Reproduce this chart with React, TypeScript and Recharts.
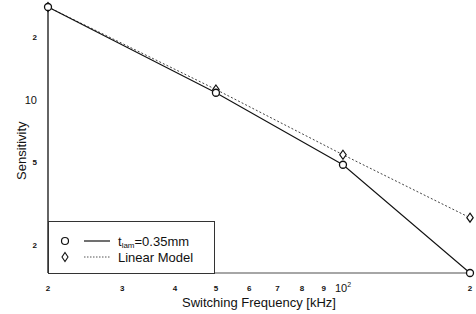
import React from "react";
import { LineChart, Line, XAxis, YAxis } from "recharts";

const frequencies = [20, 50, 100, 200];
const measured = [27.9, 10.8, 4.87, 1.47];
const linearModel = [27.9, 11.2, 5.44, 2.71];

const xTicks = [20, 30, 40, 50, 60, 70, 80, 90, 100, 200];
const xTickLabels: Record<number, string> = {
  20: "2", 30: "3", 40: "4", 50: "5", 60: "6", 70: "7", 80: "8", 90: "9", 100: "10", 200: "2",
};
const yTicks = [2, 5, 10, 20];
const yTickLabels: Record<number, string> = { 2: "2", 5: "5", 10: "10", 20: "2" };

const data = frequencies.map((f, i) => ({ f, measured: measured[i], linear: linearModel[i] }));

const FONT = "'Liberation Sans', Arial, sans-serif";

const XTick = (props: any) => {
  const { x, y, payload } = props;
  const v = payload.value;
  if (v === 100) {
    return (
      <text x={x} y={y + 11} textAnchor="middle" fontFamily={FONT} fontSize={11} fill="#111">
        10<tspan dy={-5} fontSize={7}>2</tspan>
      </text>
    );
  }
  return (
    <text x={x} y={y + 10} textAnchor="middle" fontFamily={FONT} fontSize={8} fontWeight="bold" fill="#111">
      {xTickLabels[v]}
    </text>
  );
};

const YTick = (props: any) => {
  const { x, y, payload } = props;
  const v = payload.value;
  const big = v === 10;
  return (
    <text x={x - 3} y={y + (big ? 4 : 3)} textAnchor="end" fontFamily={FONT} fontSize={big ? 11 : 8} fontWeight={big ? "normal" : "bold"} fill="#111">
      {yTickLabels[v]}
    </text>
  );
};

const CircleDot = (props: any) => {
  const { cx, cy } = props;
  return <circle cx={cx} cy={cy} r={3.5} fill="#fff" stroke="#111" strokeWidth={1.3} />;
};
const DiamondDot = (props: any) => {
  const { cx, cy } = props;
  return (
    <path d={`M${cx},${cy - 4.5}L${cx + 3.2},${cy}L${cx},${cy + 4.5}L${cx - 3.2},${cy}Z`} fill="#fff" stroke="#111" strokeWidth={1.2} />
  );
};

const LegendBox = () => (
  <svg width={167} height={53} style={{ position: "absolute", left: 48, top: 221 }}>
    <rect x={0.5} y={0.5} width={166} height={52} fill="#fff" stroke="#333" strokeWidth={1} />
    <circle cx={17} cy={20} r={3.5} fill="#fff" stroke="#111" strokeWidth={1.2} />
    <line x1={36} y1={20} x2={62} y2={20} stroke="#111" strokeWidth={1.2} />
    <path d="M17,31.5L20,36L17,40.5L14,36Z" fill="#fff" stroke="#111" strokeWidth={1.1} />
    <line x1={36} y1={36} x2={62} y2={36} stroke="#555" strokeWidth={1} strokeDasharray="1.5 1.5" />
    <text x={70} y={25} fontFamily={FONT} fontSize={13} fill="#111">
      t<tspan fontSize={8} dy={2}>lam</tspan>
      <tspan dy={-2}>=0.35mm</tspan>
    </text>
    <text x={70} y={41} fontFamily={FONT} fontSize={13} fill="#111">Linear Model</text>
  </svg>
);

export default function App() {
  return (
    <div style={{ position: "absolute", left: 0, top: 0, width: 476, height: 314, background: "#fff" }}>
      <LineChart width={476} height={314} data={data} margin={{ top: 7, right: 6, left: 0, bottom: 0 }}>
        <XAxis
          dataKey="f"
          type="number"
          scale="log"
          domain={[20, 200]}
          ticks={xTicks}
          tick={<XTick />}
          tickLine={false}
          axisLine={{ stroke: "#888", strokeWidth: 1.5 }}
          height={41}
          interval={0}
          label={{ value: "Switching Frequency [kHz]", position: "insideBottom", offset: 7, fontFamily: FONT, fontSize: 13, fill: "#111" }}
        />
        <XAxis
          xAxisId="top"
          orientation="top"
          dataKey="f"
          type="number"
          scale="log"
          domain={[20, 200]}
          tick={false}
          tickLine={false}
          axisLine={{ stroke: "#888", strokeWidth: 1.5 }}
          height={0}
        />
        <YAxis
          type="number"
          scale="log"
          domain={[1.47, 27.9]}
          ticks={yTicks}
          tick={<YTick />}
          tickLine={false}
          axisLine={{ stroke: "#111", strokeWidth: 1.3 }}
          width={48}
          interval={0}
          label={{ value: "Sensitivity", angle: -90, position: "insideLeft", offset: 21, dy: 40, fontFamily: FONT, fontSize: 13, fill: "#111" }}
        />
        <YAxis
          yAxisId="right"
          orientation="right"
          type="number"
          scale="log"
          domain={[1.47, 27.9]}
          tick={false}
          tickLine={false}
          axisLine={{ stroke: "#111", strokeWidth: 1.3 }}
          width={0}
        />
        <Line
          dataKey="linear"
          stroke="#444"
          strokeWidth={1}
          strokeDasharray="2 2"
          dot={<DiamondDot />}
          activeDot={false}
          isAnimationActive={false}
        />
        <Line
          dataKey="measured"
          stroke="#111"
          strokeWidth={1.1}
          dot={<CircleDot />}
          activeDot={false}
          isAnimationActive={false}
        />
      </LineChart>
      <LegendBox />
    </div>
  );
}
